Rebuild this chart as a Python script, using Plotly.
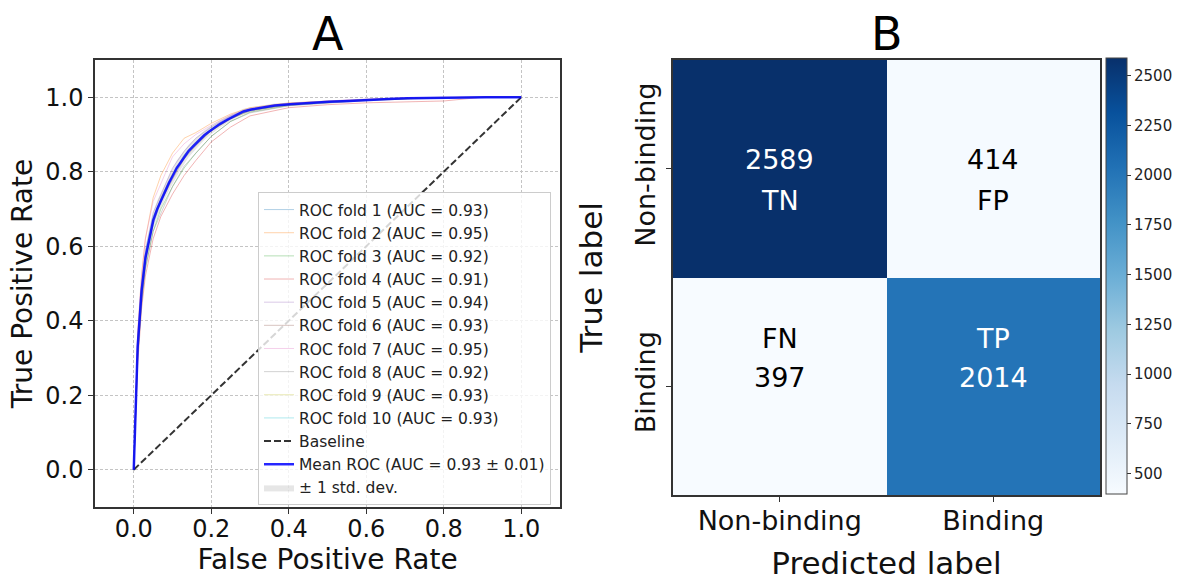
import plotly.graph_objects as go

W, H = 1180, 581

# ---------------- Panel A data ----------------
fold_fpr = [0, 0.01, 0.02, 0.03, 0.05, 0.07, 0.10, 0.13, 0.16, 0.20, 0.25, 0.30,
            0.40, 0.50, 0.60, 0.70, 0.80, 0.90, 1.0]
fold1_tpr = [0, 0.30, 0.46, 0.56, 0.66, 0.72, 0.79, 0.845, 0.88, 0.915, 0.945, 0.965, 0.980, 0.988, 0.993, 0.997, 0.999, 1, 1]
fold2_tpr = [0, 0.36, 0.52, 0.62, 0.73, 0.79, 0.85, 0.890, 0.905, 0.930, 0.955, 0.972, 0.985, 0.990, 0.995, 0.998, 1.000, 1, 1]
fold3_tpr = [0, 0.31, 0.45, 0.54, 0.64, 0.70, 0.76, 0.810, 0.85, 0.895, 0.935, 0.960, 0.978, 0.986, 0.992, 0.996, 0.999, 1, 1]
fold4_tpr = [0, 0.28, 0.43, 0.52, 0.62, 0.68, 0.74, 0.790, 0.83, 0.880, 0.920, 0.950, 0.972, 0.980, 0.985, 0.988, 0.990, 1, 1]
fold5_tpr = [0, 0.35, 0.50, 0.59, 0.69, 0.74, 0.81, 0.855, 0.89, 0.920, 0.950, 0.968, 0.983, 0.990, 0.995, 0.998, 1.000, 1, 1]
fold6_tpr = [0, 0.33, 0.47, 0.56, 0.67, 0.72, 0.78, 0.835, 0.87, 0.910, 0.942, 0.963, 0.980, 0.988, 0.993, 0.997, 0.999, 1, 1]
fold7_tpr = [0, 0.37, 0.52, 0.62, 0.72, 0.77, 0.84, 0.875, 0.90, 0.925, 0.952, 0.970, 0.984, 0.990, 0.995, 0.998, 1.000, 1, 1]
fold8_tpr = [0, 0.30, 0.44, 0.54, 0.64, 0.69, 0.76, 0.815, 0.85, 0.895, 0.935, 0.958, 0.977, 0.985, 0.991, 0.995, 0.998, 1, 1]
fold9_tpr = [0, 0.32, 0.48, 0.57, 0.67, 0.73, 0.795, 0.840, 0.875, 0.910, 0.943, 0.965, 0.980, 0.988, 0.993, 0.997, 0.999, 1, 1]
fold10_tpr = [0, 0.34, 0.49, 0.58, 0.68, 0.725, 0.79, 0.838, 0.873, 0.912, 0.945, 0.966, 0.981, 0.988, 0.993, 0.997, 0.999, 1, 1]
fold_aucs = [0.93, 0.95, 0.92, 0.91, 0.94, 0.93, 0.95, 0.92, 0.93, 0.93]

mean_fpr = [0, 0.0101, 0.0202, 0.0303, 0.0404, 0.0505, 0.0606, 0.0707, 0.0808, 0.0909,
            0.101, 0.111, 0.121, 0.131, 0.141, 0.152, 0.162, 0.172, 0.182, 0.192,
            0.202, 0.222, 0.242, 0.263, 0.283, 0.303, 0.333, 0.364, 0.404, 0.455,
            0.505, 0.556, 0.606, 0.657, 0.707, 0.758, 0.808, 0.859, 0.909, 1.0]
mean_tpr = [0, 0.33, 0.48, 0.57, 0.62, 0.67, 0.70, 0.725, 0.75, 0.77,
            0.79, 0.81, 0.825, 0.84, 0.855, 0.867, 0.878, 0.888, 0.898, 0.906,
            0.914, 0.928, 0.940, 0.952, 0.962, 0.967, 0.973, 0.978, 0.981, 0.985,
            0.988, 0.990, 0.993, 0.995, 0.997, 0.998, 0.999, 0.999, 1.0, 1.0]
std_tpr = [0, 0.03, 0.025, 0.025, 0.022, 0.022, 0.022, 0.021, 0.021, 0.02,
           0.02, 0.02, 0.019, 0.018, 0.017, 0.016, 0.015, 0.014, 0.013, 0.012,
           0.011, 0.01, 0.009, 0.008, 0.007, 0.006, 0.005, 0.005, 0.004, 0.004,
           0.003, 0.003, 0.003, 0.003, 0.002, 0.002, 0.001, 0.001, 0.0, 0.0]
mean_auc, std_auc = 0.93, 0.01
baseline_x = [0, 1]
baseline_y = [0, 1]
roc_ticks = [0.0, 0.2, 0.4, 0.6, 0.8, 1.0]

# ---------------- Panel B data ----------------
cm_labels = ["Non-binding", "Binding"]
cm_values = [[2589, 414], [397, 2014]]
cm_tags = [["TN", "FP"], ["FN", "TP"]]
cbar_ticks = [500, 750, 1000, 1250, 1500, 1750, 2000, 2250, 2500]

fold_colors = ["31,119,180", "255,127,14", "44,160,44", "214,39,40", "148,103,189",
               "140,86,75", "227,119,194", "127,127,127", "188,189,34", "23,190,207"]
fold_tprs = [fold1_tpr, fold2_tpr, fold3_tpr, fold4_tpr, fold5_tpr,
             fold6_tpr, fold7_tpr, fold8_tpr, fold9_tpr, fold10_tpr]

FONT = "DejaVu Sans"
fig = go.Figure()

for i, (tpr, auc) in enumerate(zip(fold_tprs, fold_aucs)):
    fig.add_trace(go.Scatter(
        x=fold_fpr, y=tpr, mode="lines",
        line=dict(color=f"rgba({fold_colors[i]},0.35)", width=1),
        name=f"ROC fold {i+1} (AUC = {auc:.2f})", legendrank=i + 1,
        xaxis="x", yaxis="y"))

fig.add_trace(go.Scatter(
    x=baseline_x, y=baseline_y, mode="lines",
    line=dict(color="rgba(0,0,0,0.8)", width=2, dash="7px,3px"),
    name="Baseline", legendrank=11, xaxis="x", yaxis="y"))

upper = [min(m + s, 1.0) for m, s in zip(mean_tpr, std_tpr)]
lower = [max(m - s, 0.0) for m, s in zip(mean_tpr, std_tpr)]
fig.add_trace(go.Scatter(
    x=mean_fpr, y=lower, mode="lines", line=dict(width=0, color="rgba(128,128,128,0)"),
    showlegend=False, hoverinfo="skip", xaxis="x", yaxis="y"))
fig.add_trace(go.Scatter(
    x=mean_fpr, y=upper, mode="lines", line=dict(width=0, color="rgba(128,128,128,0)"),
    fill="tonexty", fillcolor="rgba(128,128,128,0.2)",
    name="± 1 std. dev.", legendrank=13, xaxis="x", yaxis="y"))

fig.add_trace(go.Scatter(
    x=mean_fpr, y=mean_tpr, mode="lines",
    line=dict(color="rgba(0,0,255,0.85)", width=2.5),
    name=f"Mean ROC (AUC = {mean_auc:.2f} ± {std_auc:.2f})", legendrank=12,
    xaxis="x", yaxis="y"))

blues = [[0.0, "#f7fbff"], [0.125, "#deebf7"], [0.25, "#c6dbef"], [0.375, "#9ecae1"],
         [0.5, "#6baed6"], [0.625, "#4292c6"], [0.75, "#2171b5"], [0.875, "#08519c"],
         [1.0, "#08306b"]]
zmin = min(min(r) for r in cm_values)
zmax = max(max(r) for r in cm_values)
fig.add_trace(go.Heatmap(
    z=cm_values, x=cm_labels, y=cm_labels, colorscale=blues, zmin=zmin, zmax=zmax,
    xaxis="x2", yaxis="y2", showscale=True, hoverinfo="skip",
    colorbar=dict(x=1106 / W, xanchor="left", thickness=21, thicknessmode="pixels",
                  len=436 / H, lenmode="fraction", y=(H - 276) / H, yanchor="middle",
                  ypad=0, xpad=0, outlinewidth=1, outlinecolor="#444",
                  tickvals=cbar_ticks, ticks="outside", ticklen=4, tickcolor="#333",
                  tickfont=dict(family=FONT, size=15, color="#222"))))

# cell text
thresh = (zmax + zmin) / 2
shifts = [[(9, -32), (9, -32)], [(48, 9)] * 2]
for r in range(2):
    for c in range(2):
        v = cm_values[r][c]
        col = "white" if v > thresh or (r == 1 and c == 1) else "black"
        lines = [str(v), cm_tags[r][c]] if r == 0 else [cm_tags[r][c], str(v)]
        for k, txt in enumerate(lines):
            fig.add_annotation(x=cm_labels[c], y=cm_labels[r], xref="x2", yref="y2",
                               text=txt, showarrow=False, yshift=shifts[r][c][k],
                               font=dict(family=FONT, size=27, color=col))

axis_common = dict(showline=True, mirror=True, linecolor="#333", linewidth=1.5,
                   ticks="outside", ticklen=5, tickcolor="#333", zeroline=False)

fig.update_layout(
    width=W, height=H, autosize=False,
    margin=dict(l=0, r=0, t=0, b=0),
    paper_bgcolor="white", plot_bgcolor="white",
    font=dict(family=FONT, color="#111"),
    xaxis=dict(domain=[95 / W, 560 / W], range=[-0.1, 1.1], tickvals=roc_ticks,
               tickformat=".1f", showgrid=True, gridcolor="#c4c4c4", griddash="3px,2px",
               gridwidth=1, tickfont=dict(size=24), ticklabelstandoff=-6,
               title=dict(text="False Positive Rate", font=dict(size=28), standoff=0),
               anchor="y", **axis_common),
    yaxis=dict(domain=[74 / H, 521 / H], range=[-0.1, 1.1], tickvals=roc_ticks,
               tickformat=".1f", showgrid=True, gridcolor="#c4c4c4", griddash="3px,2px",
               gridwidth=1, tickfont=dict(size=24),
               title=dict(text="True Positive Rate", font=dict(size=28), standoff=4),
               anchor="x", **axis_common),
    xaxis2=dict(domain=[673 / W, 1100 / W], anchor="y2", showgrid=False,
                tickfont=dict(size=27), ticklabelstandoff=-4,
                title=dict(text="Predicted label", font=dict(size=31), standoff=22),
                **axis_common),
    yaxis2=dict(domain=[86 / H, 521 / H], anchor="x2", showgrid=False,
                autorange="reversed", tickangle=-90, tickfont=dict(size=27),
                title=dict(text="True label", font=dict(size=31), standoff=19),
                **axis_common),
    legend=dict(x=551 / W, xanchor="right", y=(H - 192) / H, yanchor="top",
                bgcolor="rgba(255,255,255,0.8)", bordercolor="#cccccc", borderwidth=1,
                font=dict(family=FONT, size=15.5, color="#222"), itemwidth=30,
                tracegroupgap=0, traceorder="normal"),
    annotations=list(fig.layout.annotations) + [
        dict(text="A", x=327.5 / W, y=(H - 34) / H, xref="paper", yref="paper",
             showarrow=False, xanchor="center", yanchor="middle",
             font=dict(family=FONT, size=46, color="black")),
        dict(text="B", x=886.5 / W, y=(H - 34) / H, xref="paper", yref="paper",
             showarrow=False, xanchor="center", yanchor="middle",
             font=dict(family=FONT, size=46, color="black")),
    ],
)

fig.write_html("out.html", config={"displayModeBar": False},
               post_script="document.body.style.margin='0';document.body.style.padding='0';")
